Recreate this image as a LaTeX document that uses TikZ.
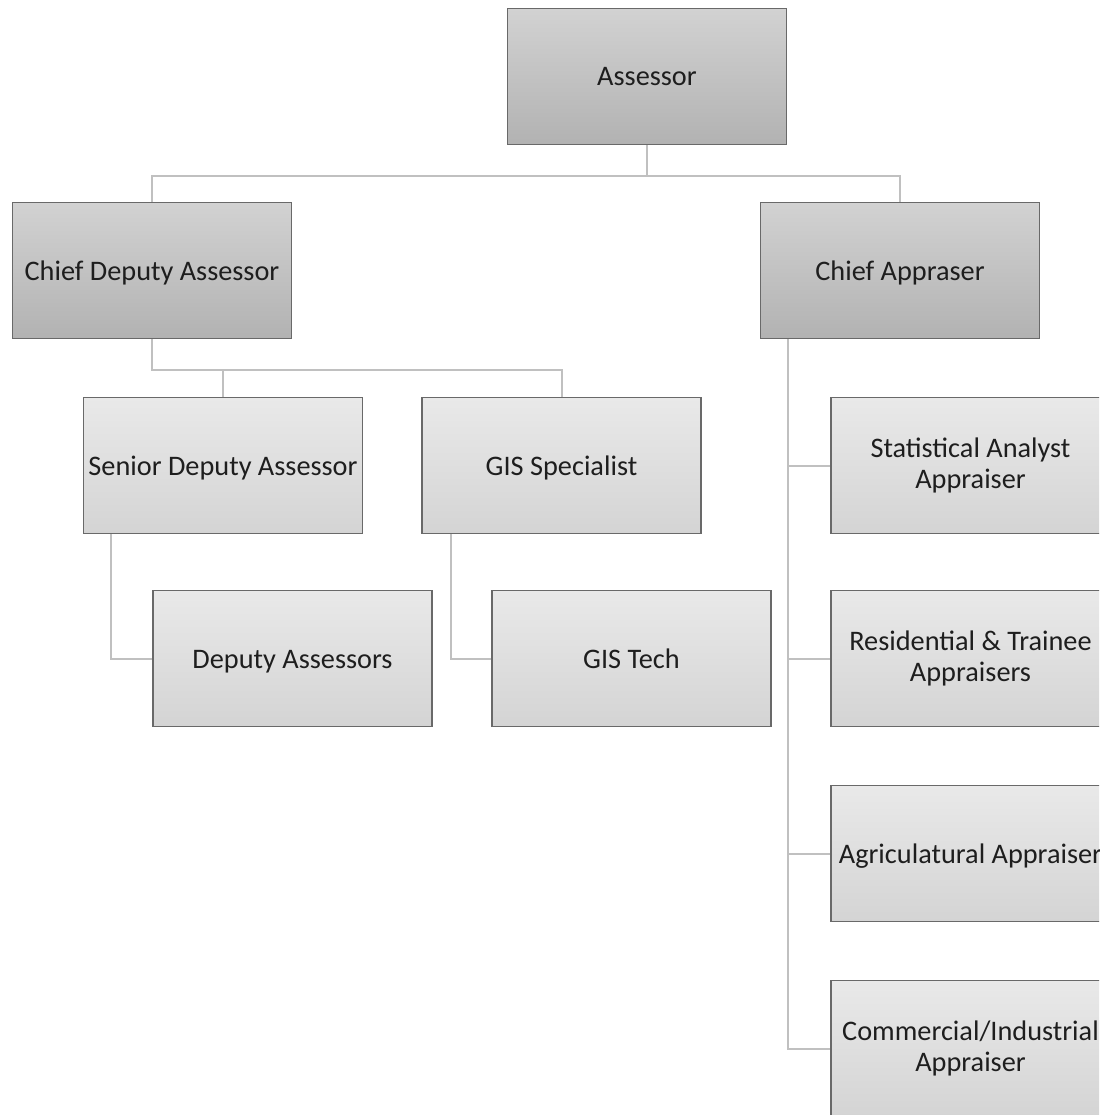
\documentclass[tikz,border=0pt]{standalone}
\usepackage{fontspec}
\setmainfont{Carlito}
\usetikzlibrary{calc}
\definecolor{boxline}{RGB}{105,105,105}
\definecolor{conn}{RGB}{192,192,192}
\definecolor{txt}{RGB}{30,30,30}
\newcommand\boxstrut{\rule[-5pt]{0pt}{29pt}}
\tikzset{
  orgbox/.style={draw=boxline, line width=1.4pt, minimum width=279pt, minimum height=136pt,
    inner sep=0pt, align=center, text=txt, font=\fontsize{28.3}{31}\selectfont,
    execute at begin node=\boxstrut, execute at end node=\boxstrut},
  topbox/.style={orgbox, top color={rgb,255:red,210;green,210;blue,210}, bottom color={rgb,255:red,178;green,178;blue,178}},
  lowbox/.style={orgbox, top color={rgb,255:red,233;green,233;blue,233}, bottom color={rgb,255:red,212;green,212;blue,212}},
  link/.style={draw=conn, line width=2pt}
}
\begin{document}
\begin{tikzpicture}[x=1pt,y=-1pt]
\useasboundingbox[fill=white] (0,0) rectangle (1099,1115);
\begin{scope}
\clip (0,0) rectangle (1099,1115);
\node[topbox] (ass) at (647,76.5) {Assessor};
\node[topbox] (cda) at (152,270.5) {Chief Deputy Assessor};
\node[topbox] (ca) at (900,270.5) {Chief Appraser};
\node[lowbox] (sda) at (223,465.5) {Senior Deputy Assessor};
\node[lowbox] (gis) at (561.5,465.5) {GIS Specialist};
\node[lowbox] (da) at (292.5,658.5) {Deputy Assessors};
\node[lowbox] (gt) at (631.5,658.5) {GIS Tech};
\node[lowbox] (saa) at (970.5,465.5) {Statistical Analyst\\Appraiser};
\node[lowbox] (rta) at (970.5,658.5) {Residential \& Trainee\\Appraisers};
\node[lowbox] (aga) at (970.5,853.5) {Agriculatural Appraiser};
\node[lowbox] (cia) at (970.5,1048.5) {Commercial/Industrial\\Appraiser};
\draw[link] (ass.south) -- ++(0,31) -| (cda.north);
\draw[link] (ass.south) -- ++(0,31) -| (ca.north);
\draw[link] (cda.south) -- ++(0,31) -| (sda.north);
\draw[link] (cda.south) -- ++(0,31) -| (gis.north);
\draw[link] ($(sda.south west)+(28,0)$) |- (da.west);
\draw[link] ($(gis.south west)+(30,0)$) |- (gt.west);
\draw[link] ($(ca.south west)+(28,0)$) |- (cia.west);
\draw[link] ($(ca.south west)+(28,0)$) |- (saa.west);
\draw[link] ($(ca.south west)+(28,0)$) |- (rta.west);
\draw[link] ($(ca.south west)+(28,0)$) |- (aga.west);
\end{scope}
\end{tikzpicture}
\end{document}
